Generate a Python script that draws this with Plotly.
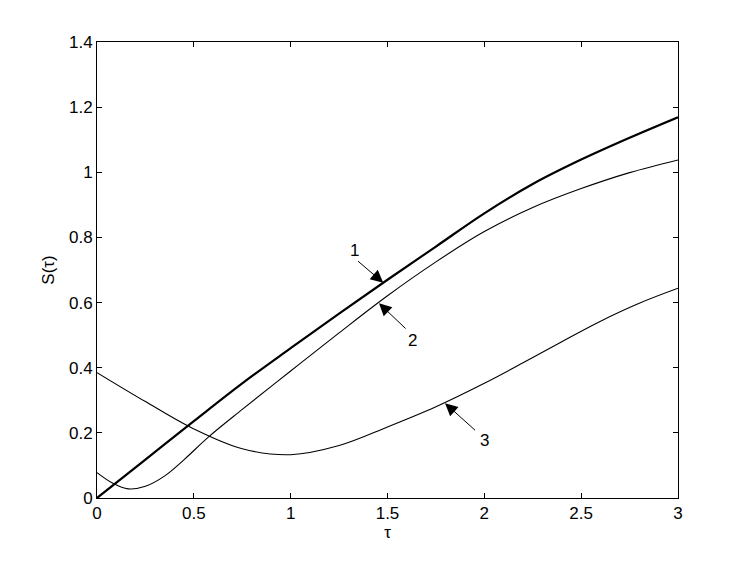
import plotly.graph_objects as go

# curve 1 (thick)
tau_1 = [0, 0.25, 0.5, 0.75, 1.0, 1.25, 1.5, 1.75, 2.0, 2.25, 2.5, 2.75, 3.0]
s_1 = [0, 0.118, 0.236, 0.352, 0.46, 0.566, 0.67, 0.772, 0.874, 0.964, 1.039, 1.106, 1.169]

# curve 2
tau_2 = [0, 0.08, 0.16, 0.25, 0.35, 0.45, 0.575, 0.75, 1.0, 1.25, 1.5, 1.75, 2.0, 2.25,
         2.5, 2.75, 3.0]
s_2 = [0.078, 0.046, 0.028, 0.036, 0.068, 0.118, 0.187, 0.272, 0.39, 0.507, 0.621, 0.725,
       0.818, 0.892, 0.95, 0.999, 1.038]

# curve 3
tau_3 = [0, 0.25, 0.5, 0.75, 1.0, 1.25, 1.5, 1.75, 2.0, 2.2, 2.4, 2.6, 2.8, 3.0]
s_3 = [0.385, 0.296, 0.212, 0.151, 0.133, 0.161, 0.218, 0.28, 0.352, 0.415, 0.48, 0.543,
       0.598, 0.644]

# arrow labels: text, label position, arrow tail, arrow tip
labels = ["1", "2", "3"]
label_x = [1.331, 1.63, 2.003]
label_y = [0.761, 0.485, 0.178]
tail_x = [1.34, 1.601, 1.96]
tail_y = [0.731, 0.516, 0.204]
tip_x = [1.478, 1.456, 1.797]
tip_y = [0.661, 0.598, 0.291]

x_ticks = [0, 0.5, 1, 1.5, 2, 2.5, 3]
x_ticktext = ["0", "0.5", "1", "1.5", "2", "2.5", "3"]
y_ticks = [0, 0.2, 0.4, 0.6, 0.8, 1.0, 1.2, 1.4]
y_ticktext = ["0", "0.2", "0.4", "0.6", "0.8", "1", "1.2", "1.4"]

font = "Liberation Sans, Arial, sans-serif"

fig = go.Figure()
for tx, sy, w in [(tau_1, s_1, 2.2), (tau_2, s_2, 1.1), (tau_3, s_3, 1.1)]:
    fig.add_trace(go.Scatter(x=tx, y=sy, mode="lines",
                             line=dict(color="black", width=w, shape="spline", smoothing=1.0),
                             showlegend=False, hoverinfo="skip"))

for i in range(len(labels)):
    fig.add_annotation(x=tip_x[i], y=tip_y[i], ax=tail_x[i], ay=tail_y[i],
                       xref="x", yref="y", axref="x", ayref="y",
                       text="", showarrow=True, arrowhead=2, arrowsize=2.5,
                       arrowwidth=1, arrowcolor="black")
    fig.add_annotation(x=label_x[i], y=label_y[i], xref="x", yref="y",
                       text=labels[i], showarrow=False,
                       font=dict(family=font, size=17, color="black"))

axis_common = dict(showline=True, linecolor="black", linewidth=1, mirror="ticks",
                   ticks="inside", ticklen=5, tickcolor="black", showgrid=False,
                   zeroline=False, automargin=False,
                   tickfont=dict(family=font, size=17, color="black"))

fig.update_xaxes(range=[0, 3], tickvals=x_ticks, ticktext=x_ticktext,
                 title=dict(text="τ", font=dict(family=font, size=17, color="black"), standoff=2),
                 **axis_common)
fig.update_yaxes(range=[0, 1.4], tickvals=y_ticks, ticktext=y_ticktext,
                 title=dict(text="S(τ)", font=dict(family=font, size=17, color="black"), standoff=10),
                 **axis_common)

# page body adds an 8px offset, so margins are shifted to keep the axes in place
fig.update_layout(width=747, height=562, plot_bgcolor="white", paper_bgcolor="white",
                  margin=dict(l=89, r=77, t=34, b=72))

fig.write_html("out.html")
